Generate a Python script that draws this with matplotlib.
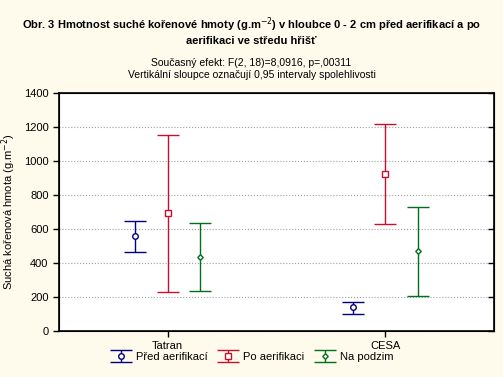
import numpy as np
import matplotlib
matplotlib.use('Agg')
from matplotlib import pyplot as plt

plt.rcParams['font.family'] = ['Liberation Sans', 'DejaVu Sans']

sites = ['Tatran', 'CESA']
series = ['Před aerifikací', 'Po aerifikaci', 'Na podzim']
means = [[557, 143], [692, 922], [433, 469]]
lower = [[465, 102], [229, 629], [233, 206]]
upper = [[647, 172], [1151, 1220], [633, 728]]
colors = ['#000080', '#c8102e', '#00701a']
markers = ['o', 's', 'D']
msizes = [4, 4, 2.8]
offsets = [-0.15, 0, 0.15]

bg = '#fefaec'
fig = plt.figure(figsize=(5.03, 3.77), dpi=100, facecolor=bg)
ax = fig.add_axes([59/503, 1-331/377, 435/503, 238/377])
ax.set_facecolor('white')

x = np.arange(len(sites))
handles = []
for i in range(3):
    m = np.array(means[i])
    lo = m - np.array(lower[i])
    hi = np.array(upper[i]) - m
    h = ax.errorbar(x + offsets[i], m, yerr=[lo, hi], color=colors[i], fmt=markers[i],
                    ms=msizes[i], mfc='white', mec=colors[i], mew=1,
                    capsize=8, elinewidth=1, capthick=1, label=series[i])
    handles.append(h)

ax.set_xlim(-0.5, 1.5)
ax.set_ylim(0, 1400)
ax.set_yticks(range(0, 1401, 200))
ax.set_xticks(x)
ax.set_xticklabels(sites)
ax.grid(axis='y', color='#a0a0a0', linestyle=':', linewidth=0.8)
ax.set_axisbelow(True)
ax.tick_params(labelsize=8, length=4, width=1, color='black')
for s in ax.spines.values():
    s.set_linewidth(1.2)
ax.set_ylabel('Suchá kořenová hmota (g.m$^{-2}$)', fontsize=8)

# right-hand inward ticks
ax2 = ax.twinx()
ax2.set_ylim(0, 1400)
ax2.set_yticks(range(0, 1401, 200))
ax2.tick_params(axis='y', direction='in', length=4, width=1, labelright=False)

fig.text(0.5, 0.96, 'Obr. 3 Hmotnost suché kořenové hmoty (g.m$^{-2}$) v hloubce 0 - 2 cm před aerifikací a po\naerifikaci ve středu hřišť',
         ha='center', va='top', fontsize=8, fontweight='bold', linespacing=1.3)
fig.text(0.5, 0.845, 'Současný efekt: F(2, 18)=8,0916, p=,00311\nVertikální sloupce označují 0,95 intervaly spolehlivosti',
         ha='center', va='top', fontsize=7.5, linespacing=1.25)

fig.legend(handles=handles, loc='center', bbox_to_anchor=(0.5, 1-357/377), ncol=3,
           frameon=False, fontsize=8, handlelength=2.0, handleheight=0.8,
           columnspacing=0.8, handletextpad=0.4)

fig.savefig('out.png', dpi=100, facecolor=bg)
